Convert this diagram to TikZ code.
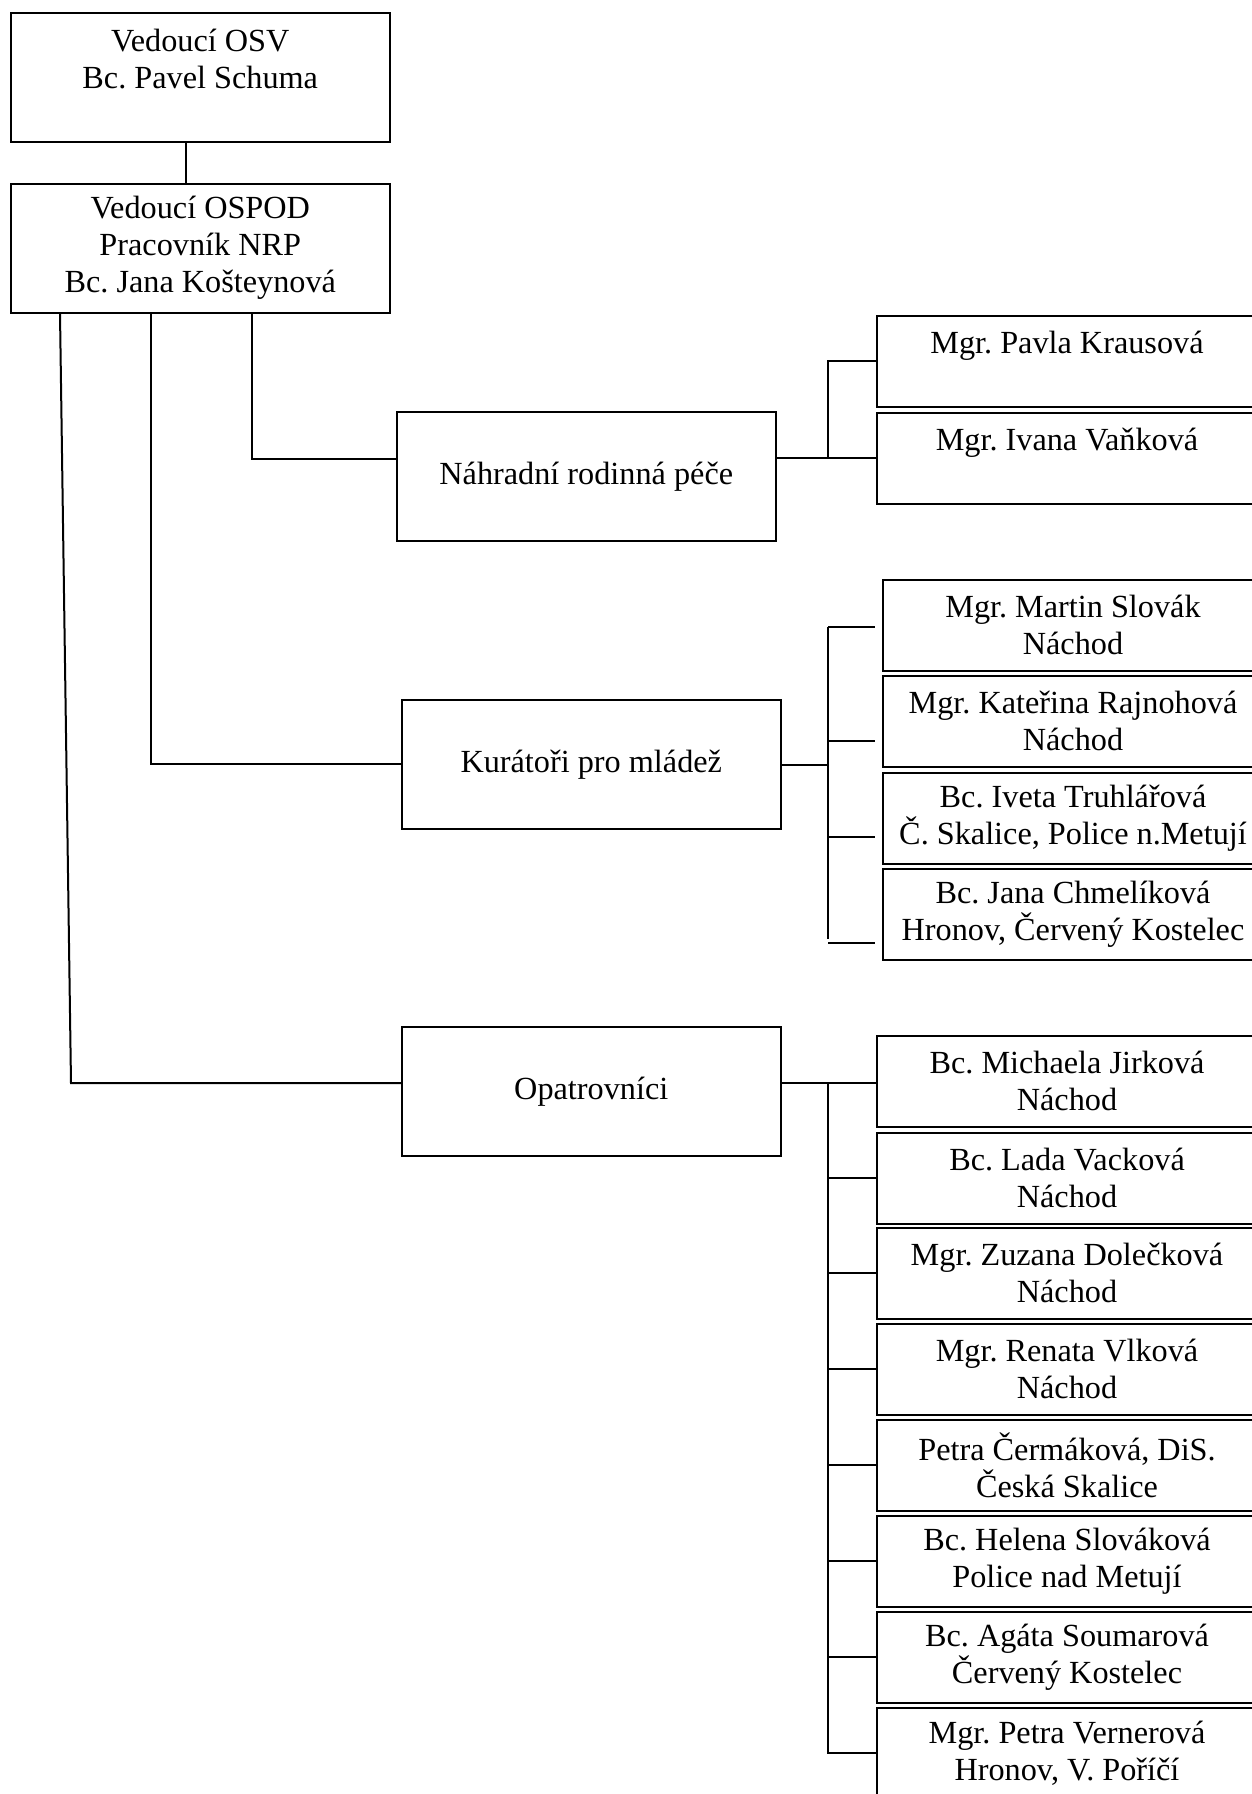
\documentclass[tikz,border=0pt]{standalone}
\usepackage{fontspec}
\setmainfont{Liberation Serif}
\frenchspacing
\begin{document}
\begin{tikzpicture}[x=0.4pt,y=-0.4pt]
\tikzstyle{box}=[draw,line width=0.8pt,align=center,inner sep=0pt,anchor=north west,font=\fontsize{12.9}{14.8}\selectfont]
\tikzstyle{head}=[box,minimum width=151.4pt,minimum height=51.4pt]
\tikzstyle{worker}=[box,minimum width=152pt,minimum height=36.2pt]
\tikzstyle{link}=[line width=0.8pt]

\useasboundingbox (0,0) rectangle (1252,1794);
\clip (0,0) rectangle (1252,1794);

\node[head] (osv) at (10,12) {Vedoucí OSV\\Bc. Pavel Schuma\\\mbox{}};
\node[head] (ospod) at (10,183) {Vedoucí OSPOD\\Pracovník NRP\\Bc. Jana Košteynová};
\node[head] (nrp) at (396,411) {Náhradní rodinná péče};
\node[head] (kur) at (401,699) {Kurátoři pro mládež};
\node[head] (opat) at (401,1026) {Opatrovníci};

\foreach \n/\y/\t in {n1/315/{Mgr. Pavla Krausová\\\mbox{}},
                      n2/412/{Mgr. Ivana Vaňková\\\mbox{}}}
  \node[worker] (\n) at (876,\y) {\t};

\foreach \n/\y/\t in {k1/579/{Mgr. Martin Slovák\\Náchod},
                      k2/675/{Mgr. Kateřina Rajnohová\\Náchod},
                      k3/772/{Bc. Iveta Truhlářová\\Č. Skalice, Police n.Metují},
                      k4/868/{Bc. Jana Chmelíková\\Hronov, Červený Kostelec}}
  \node[worker] (\n) at (882,\y) {\t};

\foreach \n/\y/\t in {o1/1035/{Bc. Michaela Jirková\\Náchod},
                      o2/1132/{Bc. Lada Vacková\\Náchod},
                      o3/1227/{Mgr. Zuzana Dolečková\\Náchod},
                      o4/1323/{Mgr. Renata Vlková\\Náchod},
                      o5/1419/{Petra Čermáková, DiS.\\Česká Skalice},
                      o6/1515/{Bc. Helena Slováková\\Police nad Metují},
                      o7/1611/{Bc. Agáta Soumarová\\Červený Kostelec},
                      o8/1707/{Mgr. Petra Vernerová\\Hronov, V. Poříčí}}
  \node[worker] (\n) at (876,\y) {\t};

\coordinate (t0) at (186,0);
\draw[link] (osv.south -| t0) -- (ospod.north -| t0);

\coordinate (a1) at (252,459);
\coordinate (a3) at (71,1083);
\draw[link] (ospod.south -| a1) -- (a1) -- (a1 -| nrp.west);
\draw[link] (ospod.south -| 151,0) |- (kur.west);
\draw[link] (ospod.south -| 60,0) -- (a3) -- (a3 -| opat.west);

\draw[link] (nrp.east |- n2.west) -- (n2.west);
\draw[link] (n2.west -| 828,0) |- (n1.west);

\coordinate (kb) at (828,765);
\draw[link] (kur.east |- kb) -- (kb);
\draw[link] (kb |- 0,627) -- (kb |- 0,939);
\foreach \n/\y in {k1/627,k2/741,k3/837,k4/943}
  \draw[link,shorten >=2.8pt] (828,\y) -- (\n.west |- 0,\y);

\coordinate (ob) at (828,1083);
\draw[link] (opat.east |- ob) -- (o1.west |- ob);
\draw[link] (ob) |- (o8.west);
\foreach \n in {o2,o3,o4,o5,o6,o7}
  \draw[link] (ob |- \n.west) -- (\n.west);

\end{tikzpicture}
\end{document}
